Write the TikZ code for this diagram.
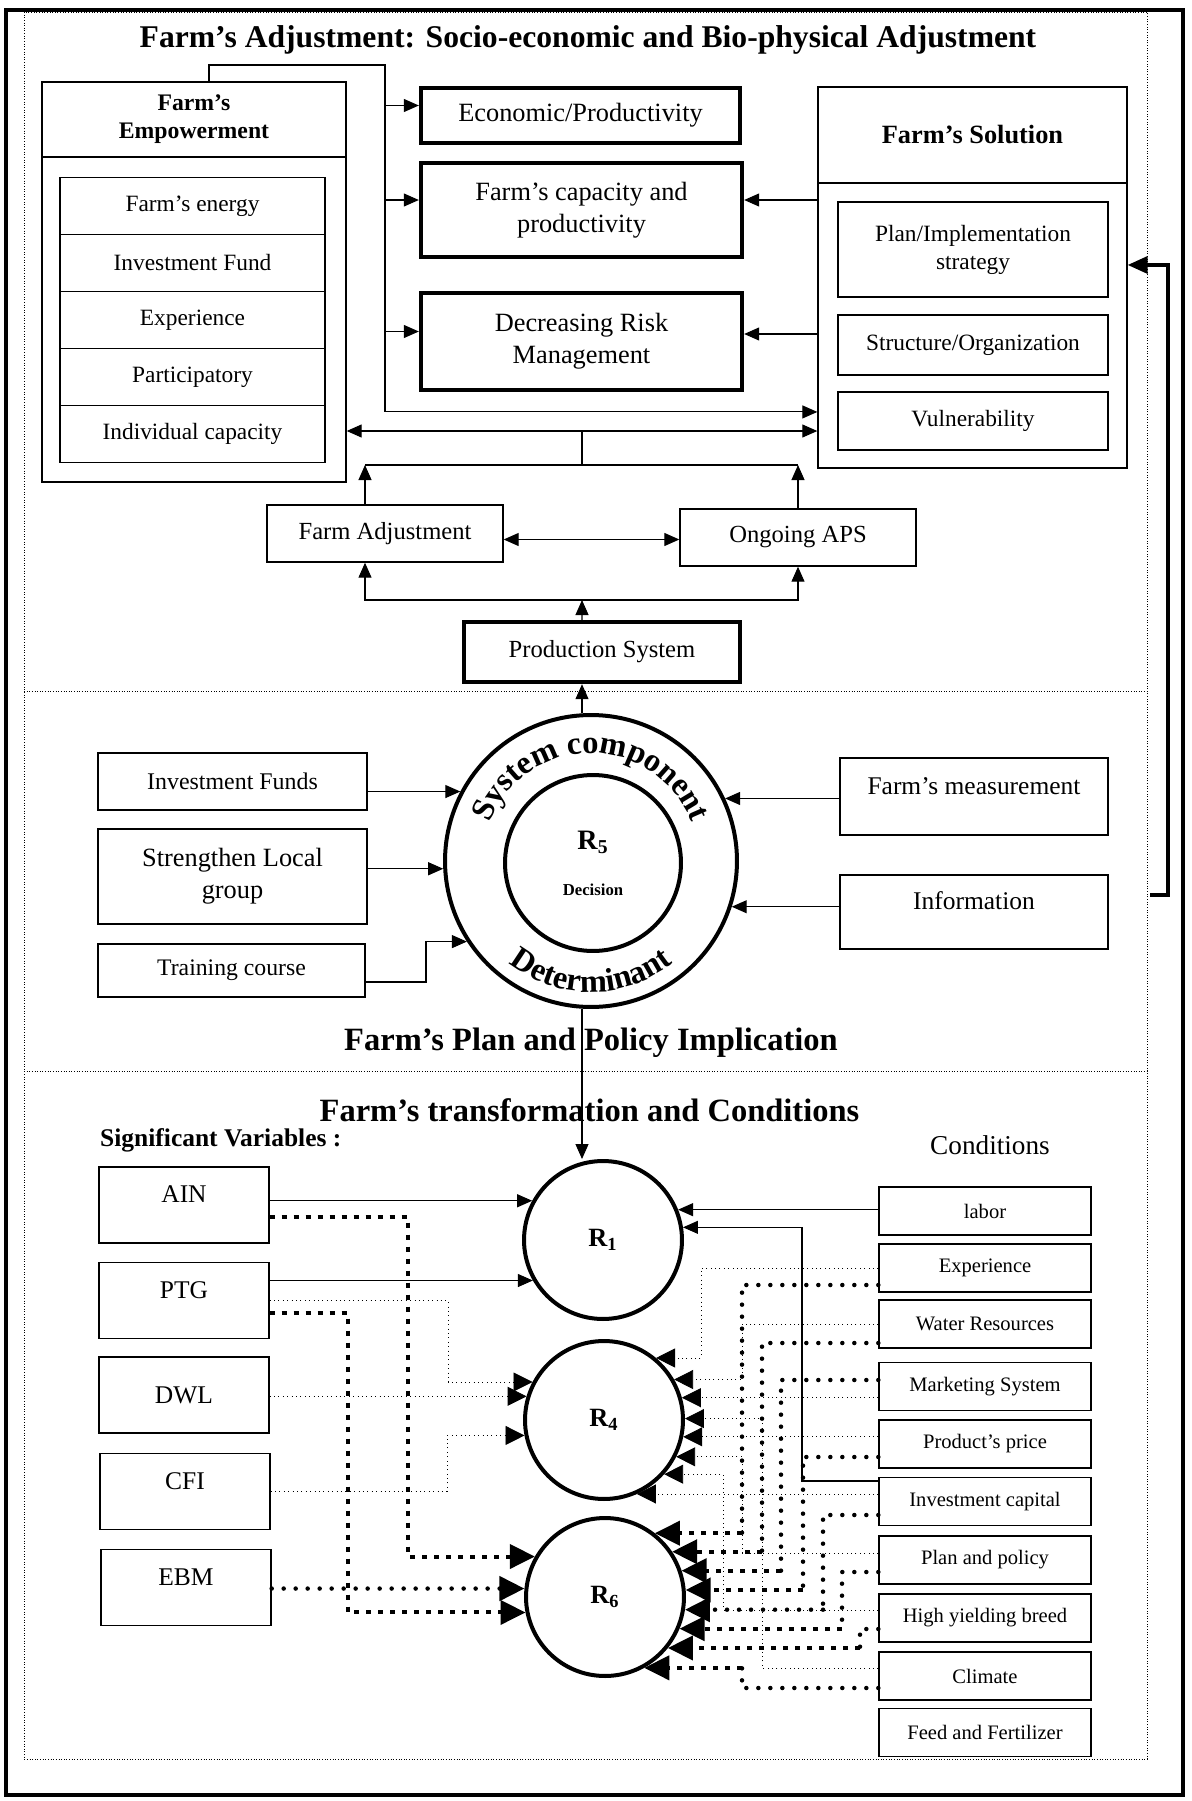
\documentclass[tikz,border=0pt]{standalone}
\usepackage{fontspec}
\setmainfont{Liberation Serif}
\usetikzlibrary{arrows.meta, positioning, decorations.text}

\begin{document}
\begin{tikzpicture}[x=0.02cm, y=-0.02cm,
  plainbox/.style={draw, line width=0.8pt, align=center, inner sep=2pt},
  thickbox/.style={draw, line width=2.5pt, align=center, font=\fontsize{15}{18}\selectfont},
  listbox/.style={plainbox, minimum width=5.3cm, minimum height=1.14cm, font=\fontsize{13.3}{16}\selectfont},
  innerbox/.style={plainbox, minimum width=5.4cm, font=\fontsize{13.3}{16}\selectfont},
  midbox/.style={plainbox, minimum width=4.72cm, minimum height=1.14cm, font=\fontsize{14}{17}\selectfont},
  sidebox/.style={plainbox, minimum width=5.36cm, font=\fontsize{14.5}{17.5}\selectfont},
  varbox/.style={plainbox, minimum width=3.4cm, minimum height=1.52cm, font=\fontsize{14.5}{17}\selectfont},
  condbox/.style={plainbox, minimum width=4.24cm, minimum height=0.96cm, font=\fontsize{11.7}{14}\selectfont},
  raised/.style={text height=0.35cm, text depth=0.45cm},
  rnode/.style={circle, draw, line width=0.08cm, minimum size=3.16cm, font=\fontsize{15}{18}\selectfont\bfseries},
  heading/.style={font=\fontsize{18.5}{22}\selectfont\bfseries},
  wire/.style={line width=0.6pt},
  conn/.style={wire, -{Triangle[length=0.3cm,width=0.26cm]}},
  thinlink/.style={line width=0.5pt, dotted, -{Triangle[length=0.38cm,width=0.38cm]}},
  squaredash/.style={line width=0.08cm, dash pattern=on 0.1cm off 0.14cm},
  squarelink/.style={squaredash, -{Triangle[length=0.5cm,width=0.48cm]}},
  rounddot/.style={line width=0.09cm, line cap=round, dash pattern=on 0pt off 0.24cm},
  roundlink/.style={rounddot, -{Triangle[length=0.5cm,width=0.48cm]}}
]
\useasboundingbox (0,0) rectangle (1192,1801);
\draw[line width=2.5pt] (6,10) rectangle (1183,1795);
\draw[densely dotted, line width=0.5pt] (24,12) rectangle (1147,1759);
\draw[densely dotted, line width=0.5pt] (24,691) -- (1147,691);
\draw[densely dotted, line width=0.5pt] (24,1071) -- (1147,1071);

\node[font=\fontsize{18}{21}\selectfont\bfseries] (MainTitle) at (588,40)
  {Farm's Adjustment: Socio-economic and Bio-physical Adjustment};

\node[plainbox, minimum width=6.08cm, minimum height=1.5cm, font=\fontsize{13.5}{16}\selectfont\bfseries] (EmpHead) at (194,119.5)
  {Farm's\\Empowerment};
\node[plainbox, minimum width=6.08cm, minimum height=6.5cm, below=-0.8pt of EmpHead] (EmpBody) {};
\node[listbox] (EmpEnergy) at (192.5,206) {Farm's energy};
\node[listbox, below=-0.8pt of EmpEnergy] (EmpFund) {Investment Fund};
\node[listbox, below=-0.8pt of EmpFund] (EmpExper) {Experience};
\node[listbox, below=-0.8pt of EmpExper] (EmpPartic) {Participatory};
\node[listbox, below=-0.8pt of EmpPartic] (EmpCapac) {Individual capacity};

\node[thickbox, minimum width=6.38cm, minimum height=1.1cm] (EconProd) at (580.5,115.5) {Economic/Productivity};
\node[thickbox, minimum width=6.42cm, minimum height=1.88cm] (FarmCap) at (581.5,210) {Farm's capacity and\\productivity};
\node[thickbox, minimum width=6.42cm, minimum height=1.94cm] (DecRisk) at (581.5,341.5) {Decreasing Risk\\Management};

\node[plainbox, minimum width=6.18cm, minimum height=1.92cm, font=\fontsize{15}{18}\selectfont\bfseries] (SolHead) at (972.5,135)
  {Farm's Solution};
\node[plainbox, minimum width=6.18cm, minimum height=5.7cm, below=-0.8pt of SolHead] (SolBody) {};
\node[innerbox, minimum height=1.9cm] (PlanImpl) at (973,249.5) {Plan/Implementation\\strategy};
\node[innerbox, minimum height=1.2cm] (StructOrg) at (973,345) {Structure/Organization};
\node[innerbox, minimum height=1.16cm] (Vulner) at (973,421) {Vulnerability};

\node[midbox] (FarmAdj) at (385,533.5) {Farm Adjustment};
\node[midbox] (Ongoing) at (798,537.5) {Ongoing APS};
\node[thickbox, minimum width=5.52cm, minimum height=1.2cm, font=\fontsize{14}{17}\selectfont] (ProdSys) at (602,652) {Production System};

\coordinate (LoopTop) at (385,65);
\draw[conn] ([xshift=0.3cm]EmpHead.north) |- (LoopTop) |- ([yshift=-1.73cm]SolBody.west);
\draw[conn] ([yshift=0.2cm]EconProd.west -| LoopTop) -- ([yshift=0.2cm]EconProd.west);
\draw[conn] ([yshift=0.2cm]FarmCap.west -| LoopTop) -- ([yshift=0.2cm]FarmCap.west);
\draw[conn] ([yshift=0.2cm]DecRisk.west -| LoopTop) -- ([yshift=0.2cm]DecRisk.west);
\draw[conn] ([yshift=0.2cm]FarmCap.east -| SolBody.west) -- ([yshift=0.2cm]FarmCap.east);
\draw[conn] ([yshift=0.15cm]DecRisk.east -| SolBody.west) -- ([yshift=0.15cm]DecRisk.east);

\coordinate (BusTop) at (582,431);
\coordinate (BusLow) at (582,465);
\draw[conn] (BusTop) -- (BusTop -| EmpBody.east);
\draw[conn] (BusTop) -- (BusTop -| SolBody.west);
\draw[wire] (BusTop) -- (BusLow);
\draw[wire] ([xshift=-0.4cm]FarmAdj.north |- BusLow) -- (Ongoing.north |- BusLow);
\draw[conn] ([xshift=-0.4cm]FarmAdj.north) -- ([xshift=-0.4cm]FarmAdj.north |- BusLow);
\draw[conn] (Ongoing.north) -- (Ongoing.north |- BusLow);
\draw[wire, {Triangle[length=0.3cm,width=0.26cm]}-{Triangle[length=0.3cm,width=0.26cm]}]
  ([yshift=-0.12cm]FarmAdj.east) -- ([yshift=-0.12cm]FarmAdj.east -| Ongoing.west);

\coordinate (ProdBus) at (582,600);
\draw[conn] ([xshift=-0.4cm]ProdSys.north) -- (ProdBus);
\draw[conn] (ProdBus) -| ([xshift=-0.4cm]FarmAdj.south);
\draw[conn] (ProdBus) -| (Ongoing.south);

\node[circle, draw, line width=0.08cm, minimum size=5.84cm] (Ring) at (591,861) {};
\node[circle, draw, line width=0.08cm, minimum size=3.52cm, align=center] (DecisionCore) at (593,863)
  {{\fontsize{16}{16}\selectfont\textbf{R}\textsubscript{\textbf{5}}}\\[0.5cm]{\fontsize{9.5}{11}\selectfont\bfseries Decision}};
\path[decorate, decoration={text along path, text align=center,
  text={|\fontsize{18.5}{18.5}\selectfont\bfseries|System component}}]
  (Ring.center) ++(179:2.16cm) arc[start angle=179, end angle=1, radius=2.16cm];
\path[decorate, decoration={text along path, text align=center,
  text={|\fontsize{18.5}{18.5}\selectfont\bfseries|Determinant}}]
  (Ring.center) ++(200:2.62cm) arc[start angle=200, end angle=340, radius=2.62cm];
\draw[conn] ([xshift=-0.18cm]Ring.north) -- ([xshift=-0.18cm]Ring.north |- ProdSys.south);

\node[sidebox, minimum width=5.38cm, minimum height=1.14cm, font=\fontsize{13.6}{16}\selectfont] (InvFunds) at (232.5,781.5) {Investment Funds};
\node[sidebox, minimum width=5.38cm, minimum height=1.9cm, font=\fontsize{15}{18}\selectfont] (StrLocal) at (232.5,876.5) {Strengthen Local\\group};
\node[sidebox, minimum width=5.34cm, minimum height=1.06cm, font=\fontsize{13.5}{16}\selectfont] (Training) at (231.5,970.5) {Training course};
\node[sidebox, raised, minimum height=1.54cm] (FarmMeas) at (974,796.5) {Farm's measurement};
\node[sidebox, raised, minimum height=1.48cm] (Info) at (974,912) {Information};

\draw[conn] (Ring.152 -| InvFunds.east) -- (Ring.152);
\draw[conn] (Ring.183 -| StrLocal.east) -- (Ring.183);
\draw[conn] ([yshift=-0.23cm]Training.east) -| (426,0 |- Ring.213) -- (Ring.213);
\draw[conn] (Ring.25 -| FarmMeas.west) -- (Ring.25);
\draw[conn] (Ring.-18 -| Info.west) -- (Ring.-18);

\coordinate (FeedStub) at (1150,895);
\coordinate (FeedRail) at (1168,0);
\draw[line width=2pt, -{Triangle[length=0.4cm,width=0.34cm]}]
  (FeedStub) -- (FeedStub -| FeedRail) |- ([yshift=1.21cm]SolBody.east);

\node[heading] (PlanTitle) at (591,1043) {Farm's Plan and Policy Implication};
\node[heading] (TransTitle) at (589.5,1110) {Farm's transformation and Conditions};
\node[font=\fontsize{14.5}{17}\selectfont\bfseries, anchor=west] (SigVars) at (94,1140) {Significant Variables :};
\node[font=\fontsize{15.5}{18}\selectfont] (CondTitle) at (990,1145) {Conditions};

\node[rnode] (R1) at (603,1240) {R\textsubscript{1}};
\node[rnode] (R4) at (604,1420) {R\textsubscript{4}};
\node[rnode] (R6) at (605,1597) {R\textsubscript{6}};
\draw[conn] ([xshift=-0.18cm]Ring.south) -- ([xshift=-0.18cm]Ring.south |- R1.north);

\node[varbox, raised] (AIN) at (184,1205) {AIN};
\node[varbox, raised] (PTG) at (184,1300.5) {PTG};
\node[varbox] (DWL) at (184,1395) {DWL};
\node[varbox, raised] (CFI) at (185,1491.5) {CFI};
\node[varbox, raised] (EBM) at (186,1587.5) {EBM};

\node[condbox] (Labor) at (985,1211) {labor};
\node[condbox] (Exper) at (985,1268) {Experience};
\node[condbox] (WaterRes) at (985,1324) {Water Resources};
\node[condbox] (MarketSys) at (985,1386.5) {Marketing System};
\node[condbox] (ProdPrice) at (985,1444) {Product's price};
\node[condbox] (InvCap) at (985,1501.5) {Investment capital};
\node[condbox] (PlanPolicy) at (985,1560) {Plan and policy};
\node[condbox] (HighYield) at (985,1618) {High yielding breed};
\node[condbox] (Climate) at (985,1676) {Climate};
\node[condbox] (FeedFert) at (985,1732.5) {Feed and Fertilizer};

\draw[conn] (R1.151 -| AIN.east) -- (R1.151);
\draw[conn] (R1.210 -| PTG.east) -- (R1.210);
\draw[conn] (R1.22 -| Labor.west) -- (R1.22);
\draw[conn] ([yshift=0.41cm]InvCap.west) -| (802,0 |- R1.9) -- (R1.9);

\draw[thinlink] (PTG.east) -| (448,0 |- R4.152) -- (R4.152);
\draw[thinlink] (R4.163 -| DWL.east) -- (R4.163);
\draw[thinlink] (CFI.east) -| (447,0 |- R4.191) -- (R4.191);
\draw[squarelink] ([yshift=-0.24cm]AIN.east) -| (408,0 |- R6.150) -- (R6.150);
\draw[squarelink] ([yshift=-0.25cm]PTG.east) -| (348,0 |- R6.191) -- (R6.191);
\draw[roundlink] (R6.174 -| EBM.east) -- (R6.174);

\draw[thinlink] (Exper.west) -| (701,0 |- R4.50) -- (R4.50);
\draw[thinlink] (WaterRes.west) -| (742,0 |- R4.30) -- (R4.30);
\draw[thinlink] (R4.16 -| MarketSys.west) -- (R4.16);
\draw[thinlink] ([yshift=0.16cm]Climate.west) -| (762,0 |- R4.1) -- (R4.1);
\draw[thinlink] (R4.-12 -| ProdPrice.west) -- (R4.-12);
\draw[thinlink] ([yshift=0.14cm]PlanPolicy.west) -| (742,0 |- R4.-27) -- (R4.-27);
\draw[thinlink] ([yshift=0.16cm]HighYield.west) -| (723,0 |- R4.-42) -- (R4.-42);
\draw[thinlink] (R4.-66 -| InvCap.west) -- (R4.-66);

\draw[rounddot] ([yshift=-0.34cm]Exper.west) -| (742,0 |- R6.52);
\draw[squarelink] (742,0 |- R6.52) -- (R6.52);
\draw[rounddot] ([yshift=-0.38cm]WaterRes.west) -| (762,0 |- R6.34);
\draw[squarelink] (762,0 |- R6.34) -- (R6.34);
\draw[rounddot] ([yshift=0.13cm]MarketSys.west) -| (781,0 |- R6.19);
\draw[squarelink] (781,0 |- R6.19) -- (R6.19);
\draw[rounddot] ([yshift=-0.26cm]ProdPrice.west) -| (803,0 |- R6.5);
\draw[squarelink] (803,0 |- R6.5) -- (R6.5);
\draw[rounddot] ([yshift=-0.27cm]InvCap.west) -| (823,0 |- R6.-9);
\draw[roundlink] (823,0 |- R6.-9) -- (R6.-9);
\draw[rounddot] ([yshift=-0.24cm]PlanPolicy.west) -| (842,0 |- R6.-23);
\draw[squarelink] (842,0 |- R6.-23) -- (R6.-23);
\draw[rounddot] ([yshift=-0.22cm]HighYield.west) -| (860,0 |- R6.-39);
\draw[squarelink] (860,0 |- R6.-39) -- (R6.-39);
\draw[rounddot] ([yshift=-0.24cm]Climate.west) -| (742,0 |- R6.-61);
\draw[squarelink] (742,0 |- R6.-61) -- (R6.-61);
\end{tikzpicture}
\end{document}
